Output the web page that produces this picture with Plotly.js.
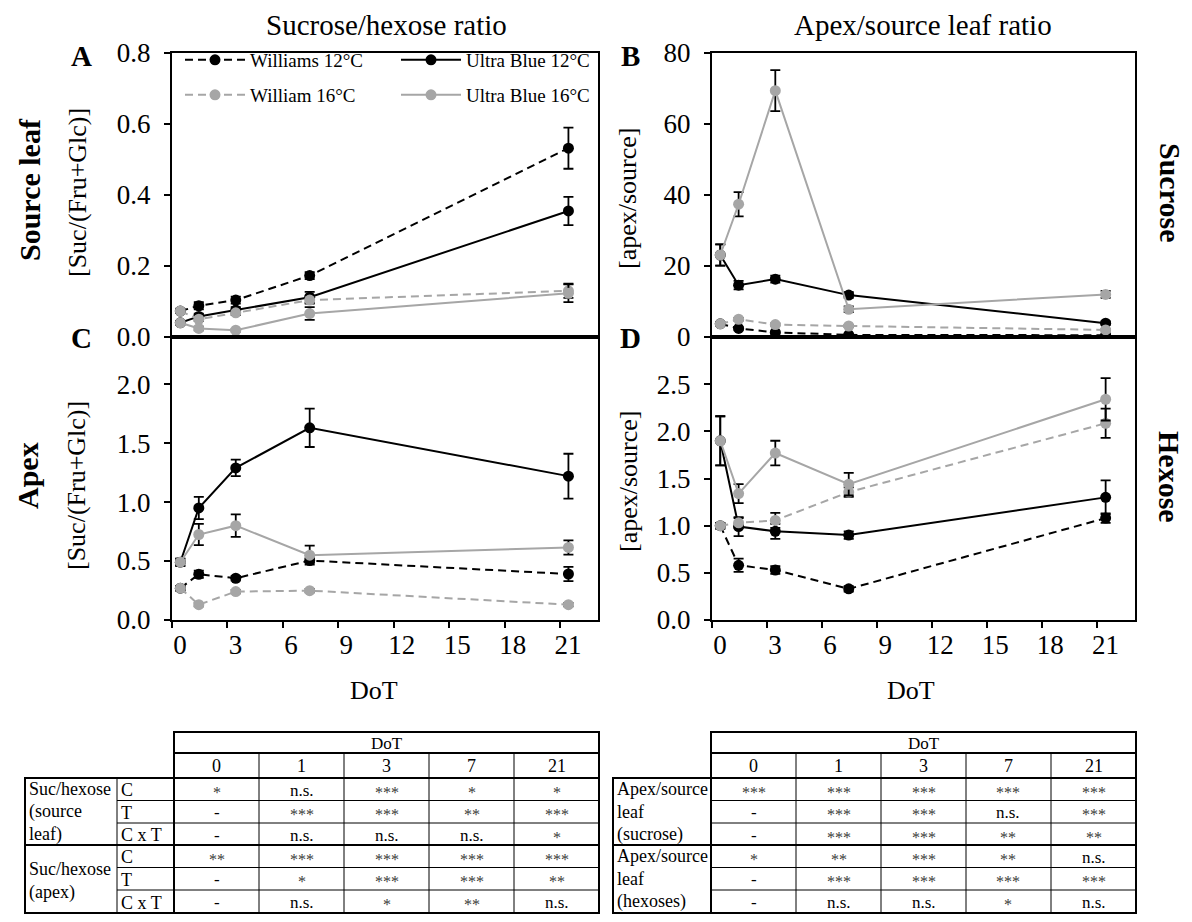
<!DOCTYPE html>
<html>
<head>
<meta charset="utf-8">
<script src="https://cdn.plot.ly/plotly-3.0.1.min.js"></script>
<style>html,body{margin:0;padding:0;background:#fff;}#chart{width:1192px;height:922px;}</style>
</head>
<body>
<div id="chart"></div>
<script>
// ---------------- DATA ----------------
const days = [0, 1, 3, 7, 21];
const xTickLabels = [0, 3, 6, 9, 12, 15, 18, 21];
const seriesNames = ['Williams 12°C', 'Ultra Blue 12°C', 'William 16°C', 'Ultra Blue 16°C'];

// Panel A: source leaf Suc/(Fru+Glc)
const srcW12 = [0.073, 0.088, 0.104, 0.173, 0.532];
const srcUB12 = [0.040, 0.058, 0.076, 0.112, 0.355];
const srcW16 = [0.073, 0.050, 0.068, 0.104, 0.130];
const srcUB16 = [0.040, 0.024, 0.019, 0.066, 0.123];
const srcW12Err = [0.005, 0.010, 0.010, 0.010, 0.058];
const srcUB12Err = [0.005, 0.008, 0.008, 0.015, 0.040];
const srcW16Err = [0.005, 0.005, 0.006, 0.010, 0.020];
const srcUB16Err = [0.005, 0.005, 0.004, 0.018, 0.025];

// Panel B: apex/source ratio, sucrose
const sucW12 = [3.7, 2.4, 1.3, 0.6, 0.5];
const sucUB12 = [23.1, 14.6, 16.3, 11.8, 3.9];
const sucW16 = [3.7, 5.0, 3.5, 3.1, 2.0];
const sucUB16 = [23.1, 37.4, 69.4, 7.8, 12.0];
const sucW12Err = [0.4, 0.3, 0.2, 0.1, 0.1];
const sucUB12Err = [3.0, 1.2, 1.0, 0.8, 0.5];
const sucW16Err = [0.4, 0.4, 0.3, 0.3, 0.2];
const sucUB16Err = [3.0, 3.4, 5.8, 0.8, 1.0];

// Panel C: apex Suc/(Fru+Glc)
const apxW12 = [0.27, 0.388, 0.354, 0.504, 0.39];
const apxUB12 = [0.49, 0.95, 1.29, 1.63, 1.22];
const apxW16 = [0.27, 0.13, 0.241, 0.249, 0.13];
const apxUB16 = [0.49, 0.725, 0.80, 0.55, 0.615];
const apxW12Err = [0.02, 0.03, 0.02, 0.02, 0.06];
const apxUB12Err = [0.03, 0.095, 0.07, 0.163, 0.19];
const apxW16Err = [0.02, 0.015, 0.015, 0.015, 0.015];
const apxUB16Err = [0.03, 0.09, 0.095, 0.08, 0.06];

// Panel D: apex/source ratio, hexose
const hexW12 = [1.0, 0.58, 0.53, 0.33, 1.08];
const hexUB12 = [1.90, 0.99, 0.94, 0.90, 1.30];
const hexW16 = [1.0, 1.03, 1.056, 1.356, 2.085];
const hexUB16 = [1.90, 1.34, 1.77, 1.44, 2.34];
const hexW12Err = [0.03, 0.07, 0.04, 0.03, 0.05];
const hexUB12Err = [0.26, 0.10, 0.08, 0.04, 0.18];
const hexW16Err = [0.03, 0.05, 0.08, 0.05, 0.155];
const hexUB16Err = [0.26, 0.10, 0.13, 0.12, 0.225];

// Tables
const tableDays = ['0', '1', '3', '7', '21'];
const factorLabels = ['C', 'T', 'C x T'];
const sigSrcLeaf = [['*', 'n.s.', '***', '*', '*'], ['-', '***', '***', '**', '***'], ['-', 'n.s.', 'n.s.', 'n.s.', '*']];
const sigApex = [['**', '***', '***', '***', '***'], ['-', '*', '***', '***', '**'], ['-', 'n.s.', '*', '**', 'n.s.']];
const sigRatioSuc = [['***', '***', '***', '***', '***'], ['-', '***', '***', 'n.s.', '***'], ['-', '***', '***', '**', '**']];
const sigRatioHex = [['*', '**', '***', '**', 'n.s.'], ['-', '***', '***', '***', '***'], ['-', 'n.s.', 'n.s.', '*', 'n.s.']];
const leftNames1 = ['Suc/hexose', '(source', 'leaf)'];
const leftNames2 = ['Suc/hexose', '(apex)'];
const rightNames1 = ['Apex/source', 'leaf', '(sucrose)'];
const rightNames2 = ['Apex/source', 'leaf', '(hexoses)'];

// ---------------- STYLE ----------------
const W = 1192, H = 922;
const FONT = 'Liberation Serif, Times New Roman, serif';
const GREY = '#a6a6a6';
const styles = [
  {color: '#000', dash: '8px,5px'},
  {color: '#000', dash: 'solid'},
  {color: GREY, dash: '8px,5px'},
  {color: GREY, dash: 'solid'}
];
const X = px => px / W;
const Y = py => 1 - py / H;

function trace(i, y, err, xa, ya, legend) {
  const t = {
    type: 'scatter', mode: 'lines+markers', x: days, y: y,
    name: seriesNames[i],
    xaxis: xa, yaxis: ya,
    line: {color: styles[i].color, dash: styles[i].dash, width: 2},
    marker: {color: styles[i].color, size: 11, symbol: 'circle'},
    error_y: {type: 'data', array: err, visible: true, color: '#000', thickness: 1.8, width: 5},
    showlegend: !!legend
  };
  if (legend) t.legend = legend;
  return t;
}

const traces = [
  trace(0, srcW12, srcW12Err, 'x', 'y', 'legend'),
  trace(1, srcUB12, srcUB12Err, 'x', 'y', 'legend'),
  trace(2, srcW16, srcW16Err, 'x', 'y', 'legend2'),
  trace(3, srcUB16, srcUB16Err, 'x', 'y', 'legend2'),
  trace(0, sucW12, sucW12Err, 'x2', 'y2'),
  trace(1, sucUB12, sucUB12Err, 'x2', 'y2'),
  trace(2, sucW16, sucW16Err, 'x2', 'y2'),
  trace(3, sucUB16, sucUB16Err, 'x2', 'y2'),
  trace(0, apxW12, apxW12Err, 'x3', 'y3'),
  trace(1, apxUB12, apxUB12Err, 'x3', 'y3'),
  trace(2, apxW16, apxW16Err, 'x3', 'y3'),
  trace(3, apxUB16, apxUB16Err, 'x3', 'y3'),
  trace(0, hexW12, hexW12Err, 'x4', 'y4'),
  trace(1, hexUB12, hexUB12Err, 'x4', 'y4'),
  trace(2, hexW16, hexW16Err, 'x4', 'y4'),
  trace(3, hexUB16, hexUB16Err, 'x4', 'y4')
];

const tickOffset = 0.45; // tick marks sit slightly left of the labelled day
function xAxis(domain, anchor, labels) {
  return {
    domain: domain, anchor: anchor, range: [-tickOffset, 22.6],
    tickmode: 'array',
    tickvals: xTickLabels.map(v => v - tickOffset),
    ticktext: xTickLabels.map(String),
    ticks: labels ? 'outside' : '', ticklen: 6, tickwidth: 2, tickcolor: '#000',
    showticklabels: labels, ticklabelshift: 8, ticklabelstandoff: -6,
    tickfont: {size: 27, family: FONT, color: '#000'},
    showline: true, linewidth: 2, linecolor: '#000', mirror: true,
    showgrid: false, zeroline: false, fixedrange: true
  };
}
function yAxis(domain, anchor, range, tickvals, fmt) {
  return {
    domain: domain, anchor: anchor, range: range,
    tickmode: 'array', tickvals: tickvals,
    ticktext: tickvals.map(v => fmt(v)),
    ticks: 'outside', ticklen: 6, tickwidth: 2, tickcolor: '#000',
    ticklabelstandoff: 8,
    tickfont: {size: 27, family: FONT, color: '#000'},
    showline: true, linewidth: 2, linecolor: '#000', mirror: true,
    showgrid: false, zeroline: false, fixedrange: true
  };
}
const f1 = v => v.toFixed(1);
const f0 = v => v.toFixed(0);

const leftDom = [X(172), X(598)];
const rightDom = [X(712), X(1135)];
const topDom = [Y(337), Y(53)];
const botDom = [Y(620), Y(337)];

// ---------------- ANNOTATIONS ----------------
const ann = [];
function txt(text, px, py, size, opts) {
  ann.push(Object.assign({
    text: text, x: X(px), y: Y(py), xref: 'paper', yref: 'paper',
    showarrow: false, xanchor: 'center', yanchor: 'middle',
    font: {family: FONT, size: size, color: '#000'}
  }, opts || {}));
}
txt('Sucrose/hexose ratio', 386, 25, 29);
txt('Apex/source leaf ratio', 923, 25, 29);
txt('<b>A</b>', 81, 56, 29);
txt('<b>B</b>', 630, 56, 29);
txt('<b>C</b>', 81, 338, 29);
txt('<b>D</b>', 630, 338, 29);
txt('<b>Source leaf</b>', 29, 190, 30, {textangle: -90});
txt('<b>Apex</b>', 27, 476, 30, {textangle: -90});
txt('[Suc/(Fru+Glc)]', 77, 193, 26, {textangle: -90});
txt('[Suc/(Fru+Glc)]', 77, 486, 26, {textangle: -90});
txt('[apex/source]', 628, 199, 26, {textangle: -90});
txt('[apex/source]', 628, 482, 26, {textangle: -90});
txt('<b>Sucrose</b>', 1170, 192, 30, {textangle: 90});
txt('<b>Hexose</b>', 1170, 477, 30, {textangle: 90});
txt('DoT', 374, 690, 26);
txt('DoT', 911, 690, 26);

// ---------------- TABLES ----------------
const shapes = [];
function line(x0, y0, x1, y1, w) {
  shapes.push({type: 'line', xref: 'paper', yref: 'paper', x0: X(x0), y0: Y(y0), x1: X(x1), y1: Y(y1),
    line: {color: '#000', width: w}});
}
function rect(x0, y0, x1, y1, w) {
  shapes.push({type: 'rect', xref: 'paper', yref: 'paper', x0: X(x0), y0: Y(y0), x1: X(x1), y1: Y(y1),
    line: {color: '#000', width: w}, fillcolor: 'rgba(0,0,0,0)'});
}
const rowTops = [778, 800.5, 823, 845, 867.5, 890, 913];
function drawTable(left, nameEnd, factorEnd, right, groups, namesA, namesB, factors) {
  const colW = (right - factorEnd) / tableDays.length;
  // header
  rect(factorEnd, 732, right, 778, 2);
  line(factorEnd, 753, right, 753, 2);
  txt('DoT', (factorEnd + right) / 2, 743, 17);
  tableDays.forEach((d, j) => {
    const cx = factorEnd + colW * (j + 0.5);
    txt(d, cx, 766, 18);
    if (j > 0) line(factorEnd + colW * j, 753, factorEnd + colW * j, 778, 1);
  });
  // groups
  groups.forEach((g, gi) => {
    const top = rowTops[gi * 3], bot = rowTops[gi * 3 + 3];
    rect(left, top, right, bot, 2);
    line(factorEnd, top, factorEnd, bot, 2);
    if (factors) line(nameEnd, top, nameEnd, bot, 1);
    for (let j = 1; j < tableDays.length; j++) line(factorEnd + colW * j, top, factorEnd + colW * j, bot, 1);
    for (let r = 1; r < 3; r++) line(factors ? nameEnd : factorEnd, rowTops[gi * 3 + r], right, rowTops[gi * 3 + r], 1);
    g.forEach((row, r) => {
      const cy = (rowTops[gi * 3 + r] + rowTops[gi * 3 + r + 1]) / 2 + 1;
      if (factors) txt(factors[r], nameEnd + 2, cy, 18, {xanchor: 'left'});
      row.forEach((v, j) => {
        const cx = factorEnd + colW * (j + 0.5);
        const isStar = v.indexOf('*') >= 0;
        txt(v, cx, cy + (isStar ? 2 : 0), isStar ? 16 : 17,
          {font: {family: FONT, size: isStar ? 16 : 17, color: isStar ? '#3a3a3a' : '#000'}});
      });
    });
    const names = gi === 0 ? namesA : namesB;
    if (names.length === 3) {
      names.forEach((n, r) => txt(n, left + 2, (rowTops[gi * 3 + r] + rowTops[gi * 3 + r + 1]) / 2, 18, {xanchor: 'left'}));
    } else {
      const mid = (top + bot) / 2;
      names.forEach((n, r) => txt(n, left + 2, mid - 10 + r * 23, 18, {xanchor: 'left'}));
    }
  });
}
drawTable(25, 117, 174, 599, [sigSrcLeaf, sigApex], leftNames1, leftNames2, factorLabels);
drawTable(613, 711, 711, 1136, [sigRatioSuc, sigRatioHex], rightNames1, rightNames2, null);

// ---------------- LAYOUT ----------------
const legendBase = {
  orientation: 'h', xanchor: 'left', yanchor: 'middle',
  font: {family: FONT, size: 19, color: '#000'}, bgcolor: 'rgba(0,0,0,0)',
  borderwidth: 0, entrywidth: 141, entrywidthmode: 'pixels', itemwidth: 60,
  itemclick: false, itemdoubleclick: false
};
const layout = {
  width: W, height: H,
  margin: {l: 0, r: 0, t: 0, b: 0},
  paper_bgcolor: '#fff', plot_bgcolor: 'rgba(0,0,0,0)',
  font: {family: FONT, color: '#000'},
  showlegend: true,
  legend: Object.assign({}, legendBase, {x: X(180), y: Y(60)}),
  legend2: Object.assign({}, legendBase, {x: X(180), y: Y(95)}),
  xaxis: xAxis(leftDom, 'y', false),
  yaxis: yAxis(topDom, 'x', [0, 0.8], [0, 0.2, 0.4, 0.6, 0.8], f1),
  xaxis2: xAxis(rightDom, 'y2', false),
  yaxis2: yAxis(topDom, 'x2', [0, 80], [0, 20, 40, 60, 80], f0),
  xaxis3: xAxis(leftDom, 'y3', true),
  yaxis3: yAxis(botDom, 'x3', [0, 2.4], [0, 0.5, 1.0, 1.5, 2.0], f1),
  xaxis4: xAxis(rightDom, 'y4', true),
  yaxis4: yAxis(botDom, 'x4', [0, 3.0], [0, 0.5, 1.0, 1.5, 2.0, 2.5], f1),
  annotations: ann,
  shapes: shapes
};
Plotly.newPlot('chart', traces, layout, {displayModeBar: false, staticPlot: true});
</script>
</body>
</html>
